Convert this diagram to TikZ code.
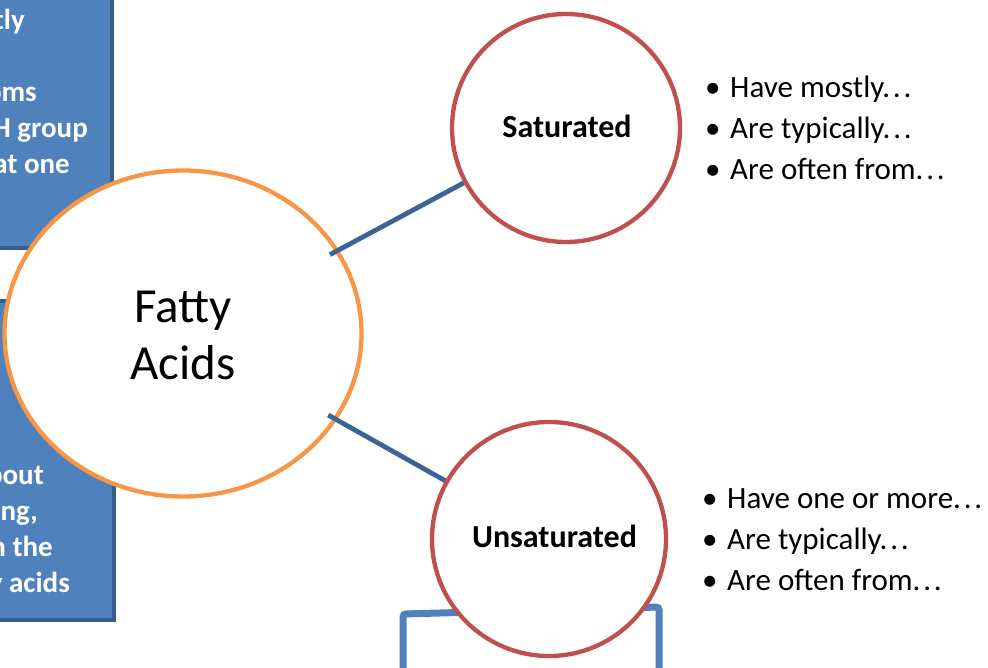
\documentclass[tikz,border=0pt]{standalone}
\usepackage{fontspec}
\setmainfont{Carlito}
\usetikzlibrary{shapes.geometric}
\definecolor{boxfill}{HTML}{4F81BD}
\definecolor{boxline}{HTML}{385D8A}
\definecolor{orangeline}{HTML}{F79646}
\definecolor{redline}{HTML}{C0504D}
\definecolor{connline}{HTML}{3C6497}
\newcommand{\mydots}{.\kern2.8pt.\kern2.8pt.}
\tikzset{
  sidebox/.style={fill=boxfill,draw=boxline,line width=3.5pt},
  boxtext/.style={text=white,font=\fontsize{29}{35}\selectfont\bfseries,inner sep=0pt,anchor=base east},
  topic/.style={circle,draw=redline,fill=white,line width=4.3pt,minimum size=228pt,inner sep=0pt},
  topictext/.style={font=\fontsize{32}{38}\selectfont\bfseries,inner sep=0pt,anchor=base},
  bul/.style={anchor=base west,inner sep=0pt,font=\fontsize{31}{37}\selectfont},
  conn/.style={draw=connline,line width=4.8pt}
}
\begin{document}
\begin{tikzpicture}[x=1pt,y=-1pt]
\useasboundingbox (0,0) rectangle (988,667);
\fill[white] (0,0) rectangle (988,667);
% left boxes
\path[sidebox] (-20,-20) rectangle (112,248);
\path[sidebox] (-20,301) rectangle (114,620);
% bottom outlined box
\draw[draw=boxfill,line width=7pt,rounded corners=3pt] (403,700) -- (403,614) -- (659,607) -- (659,700);
% box fragments
\node[boxtext] (t0) at (86,-7) {g};
\node[boxtext] (t1) at (25,29) {tly};
\node[boxtext] (t2) at (37,101) {oms};
\node[boxtext] (t3) at (88,137) {H group};
\node[boxtext] (t4) at (70,173) {at one};
\node[boxtext] (b1) at (44,484) {bout};
\node[boxtext] (b2) at (38,520) {ong,};
\node[boxtext] (b3) at (53,556) {n the};
\node[boxtext] (b4) at (70,592) {y acids};
% main ellipse
\node[ellipse,draw=orangeline,fill=white,line width=4.3pt,minimum width=357pt,minimum height=326pt,inner sep=0pt] (fatty) at (183,333.5) {};
\node[inner sep=0pt,anchor=base,font=\fontsize{49}{57}\selectfont] (fattyA) at (183,322) {Fatty};
\node[inner sep=0pt,anchor=base,font=\fontsize{49}{57}\selectfont] (fattyB) at (183,379) {Acids};
% topics
\node[topic] (sat) at (566,128) {};
\node[topic,minimum size=234pt] (unsat) at (549,539) {};
\node[topictext] (satlabel) at (567,137) {Saturated};
\node[topictext] (unsatlabel) at (554.5,547) {Unsaturated};
% connectors
\draw[conn,shorten <=-10pt] (fatty) -- (sat);
\draw[conn,shorten <=-10pt] (fatty) -- (unsat);
% bullet lists
\node[bul] (s1) at (705,97) {\makebox[25pt][l]{\textbullet}Have mostly\mydots};
\node[bul] (s2) at (705,138) {\makebox[25pt][l]{\textbullet}Are typically\mydots};
\node[bul] (s3) at (705,179) {\makebox[25pt][l]{\textbullet}Are often from\mydots};
\node[bul] (u1) at (702,508) {\makebox[25pt][l]{\textbullet}Have one or more\mydots};
\node[bul] (u2) at (702,549) {\makebox[25pt][l]{\textbullet}Are typically\mydots};
\node[bul] (u3) at (702,590) {\makebox[25pt][l]{\textbullet}Are often from\mydots};
\end{tikzpicture}
\end{document}
